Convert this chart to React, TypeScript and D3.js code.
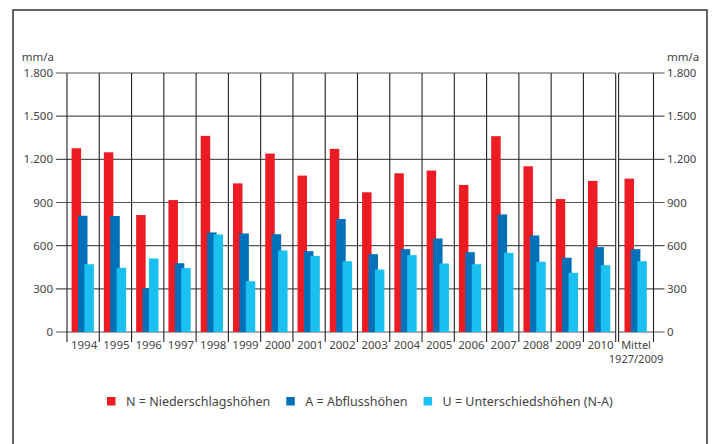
import React, { useRef, useEffect } from 'react';
import * as d3 from 'd3';

// values (mm/a)
const years = ['1994', '1995', '1996', '1997', '1998', '1999', '2000', '2001', '2002',
  '2003', '2004', '2005', '2006', '2007', '2008', '2009', '2010'];
const niederschlag = [1277, 1249, 813, 917, 1363, 1033, 1240, 1087, 1273,
  971, 1103, 1122, 1022, 1361, 1152, 924, 1050];
const abfluss = [808, 806, 304, 478, 692, 685, 680, 562, 785,
  541, 576, 650, 555, 817, 671, 516, 590];
const unterschied = [471, 446, 511, 444, 678, 353, 567, 529, 492,
  434, 534, 476, 471, 550, 488, 411, 464];
const mittel = { n: 1066, a: 576, u: 492 };
const mittelLabel = ['Mittel', '1927/2009'];
const yTicks = [0, 300, 600, 900, 1200, 1500, 1800];
const legendLabels = ['N = Niederschlagshöhen', 'A = Abflusshöhen', 'U = Unterschiedshöhen (N-A)'];
const colors = ['#ed1c24', '#0071b9', '#19c0f0'];

const fmt = (v: number) => d3.format(',')(v).replace(/,/g, '.');

export default function App() {
  const svgRef = useRef<SVGSVGElement>(null);

  useEffect(() => {
    const width = 714, height = 444;
    const svg = d3.select(svgRef.current)
      .attr('width', width)
      .attr('height', height);
    svg.selectAll('*').remove();

    const font = "'Noto Sans', sans-serif";
    const textColor = '#444';

    // frame
    svg.append('rect')
      .attr('x', 13).attr('y', 10)
      .attr('width', 694).attr('height', 460)
      .attr('fill', 'none')
      .attr('stroke', '#333')
      .attr('stroke-width', 1.5);

    const left = 67, yearsRight = 615.7, mLeft = 618.6, right = 653.5;
    const top = 73, bottom = 332;

    const y = d3.scaleLinear().domain([0, 1800]).range([bottom, top]);
    const x = d3.scaleBand().domain(years).range([left, yearsRight]).padding(0);
    const xm = d3.scaleBand().domain(['m']).range([mLeft, right]).padding(0);

    // horizontal grid + ticks
    const grid = svg.append('g');
    yTicks.forEach(t => {
      grid.append('line')
        .attr('x1', 56).attr('x2', yearsRight)
        .attr('y1', y(t)).attr('y2', y(t))
        .attr('stroke', '#555').attr('stroke-width', 1.2);
      grid.append('line')
        .attr('x1', mLeft).attr('x2', right + 11)
        .attr('y1', y(t)).attr('y2', y(t))
        .attr('stroke', '#555').attr('stroke-width', 1.2);
    });

    // vertical grid lines, extend below as ticks
    const vx = years.map(d => x(d) as number).concat([yearsRight, mLeft, right]);
    vx.forEach(v => {
      grid.append('line')
        .attr('x1', v).attr('x2', v)
        .attr('y1', top).attr('y2', bottom + 10)
        .attr('stroke', '#222').attr('stroke-width', 1.1);
    });

    // bars
    const bw = 9.5, step = 6.4;
    const groupW = bw + 2 * step;
    const drawGroup = (x0: number, band: number, vals: number[]) => {
      const off = x0 + (band - groupW) / 2 - 0.4;
      vals.forEach((v, i) => {
        svg.append('rect')
          .attr('x', off + i * step)
          .attr('y', y(v))
          .attr('width', bw)
          .attr('height', y(0) - y(v))
          .attr('fill', colors[i]);
      });
    };
    years.forEach((yr, i) => {
      drawGroup(x(yr) as number, x.bandwidth(), [niederschlag[i], abfluss[i], unterschied[i]]);
    });
    drawGroup(xm('m') as number, xm.bandwidth(), [mittel.n, mittel.a, mittel.u]);

    // y labels
    const labels = svg.append('g')
      .style('font-family', font)
      .style('font-size', '11.5px')
      .attr('fill', textColor);
    yTicks.forEach(t => {
      labels.append('text')
        .attr('x', 53).attr('y', y(t)).attr('dy', '0.35em')
        .attr('text-anchor', 'end').text(fmt(t));
      labels.append('text')
        .attr('x', 667).attr('y', y(t)).attr('dy', '0.35em')
        .attr('text-anchor', 'start').text(fmt(t));
    });
    labels.append('text').attr('x', 54).attr('y', 61).attr('text-anchor', 'end').text('mm/a');
    labels.append('text').attr('x', 667).attr('y', 61).attr('text-anchor', 'start').text('mm/a');

    // x labels
    years.forEach(yr => {
      labels.append('text')
        .attr('x', (x(yr) as number) + x.bandwidth() / 2 + 1)
        .attr('y', 349)
        .attr('text-anchor', 'middle')
        .text(yr);
    });
    mittelLabel.forEach((t, i) => {
      labels.append('text')
        .attr('x', (xm('m') as number) + xm.bandwidth() / 2)
        .attr('y', 348.5 + i * 14.5)
        .attr('text-anchor', 'middle')
        .style('font-size', '11px')
        .text(t);
    });

    // legend
    const legend = svg.append('g')
      .style('font-family', font)
      .style('font-size', '12.5px')
      .attr('fill', textColor);
    let lx = 107;
    legendLabels.forEach((l, i) => {
      legend.append('rect')
        .attr('x', lx).attr('y', 397)
        .attr('width', 8.5).attr('height', 8.5)
        .attr('fill', colors[i]);
      const txt = legend.append('text')
        .attr('x', lx + 19).attr('y', 405.8)
        .text(l);
      const w = (txt.node() as SVGTextElement).getComputedTextLength();
      lx = lx + 19 + w + 16;
    });
  }, []);

  return <svg ref={svgRef} style={{ display: 'block', position: 'absolute', left: 0, top: 0 }}></svg>;
}
